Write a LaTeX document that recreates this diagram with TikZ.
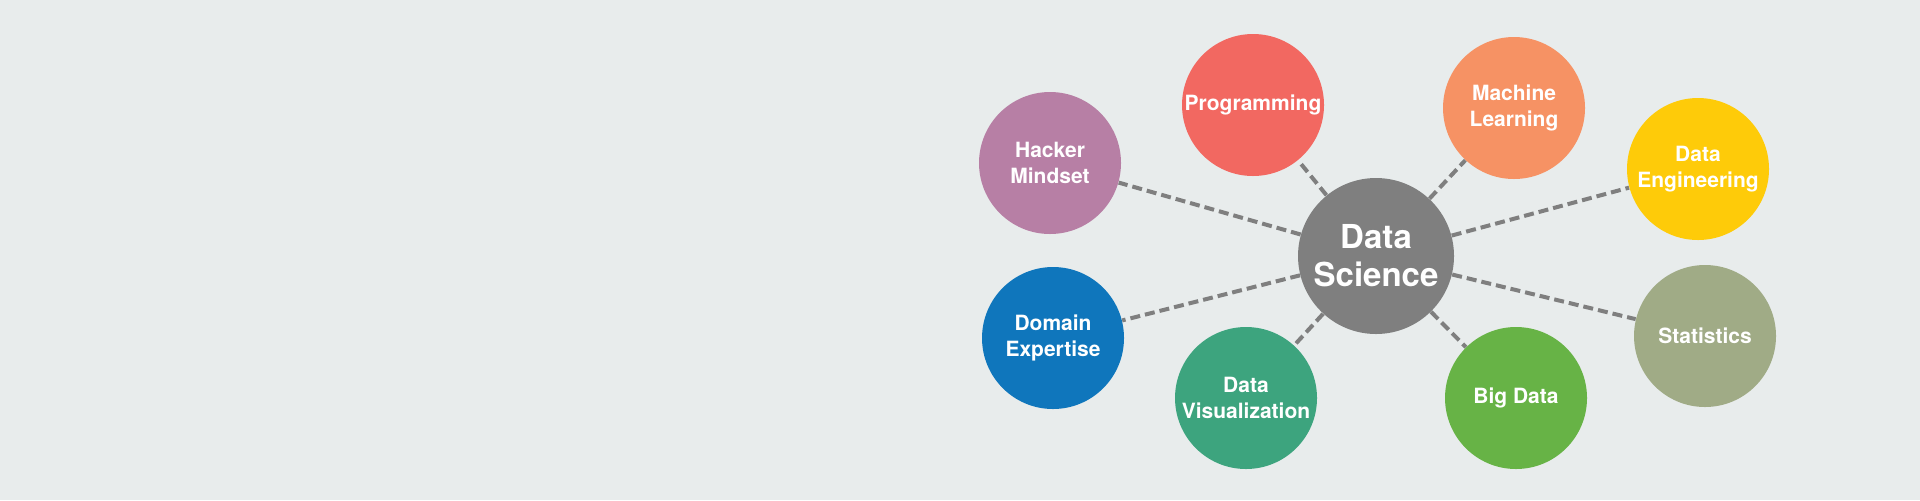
\documentclass[tikz,border=0pt]{standalone}
\usepackage{fontspec}
\setmainfont{TeX Gyre Heros}
\usepackage{xcolor}
\usetikzlibrary{backgrounds}
\definecolor{bgColor}{RGB}{232, 236, 236}
\definecolor{centerColor}{RGB}{127, 127, 127}
\definecolor{hackerColor}{RGB}{183, 127, 165}
\definecolor{programmingColor}{RGB}{242, 104, 97}
\definecolor{mlearnColor}{RGB}{246, 146, 100}
\definecolor{dataengColor}{RGB}{254, 203, 9}
\definecolor{domainColor}{RGB}{15, 118, 188}
\definecolor{datavizColor}{RGB}{61, 164, 126}
\definecolor{bigdataColor}{RGB}{103, 179, 70}
\definecolor{statsColor}{RGB}{160, 171, 134}
\definecolor{linkColor}{RGB}{127, 127, 127}

\begin{document}
\begin{tikzpicture}[
		x=0.5pt, y=-0.5pt,
		% Define styles for nodes
		hub/.style={
				circle,
				inner sep=0pt,
				minimum size=78pt,
				fill=centerColor,
				text=white,
				align=center,
				font=\fontsize{16.5}{19}\selectfont\bfseries
			},
		topic/.style={
				circle,
				inner sep=0pt,
				minimum size=71pt,
				fill=#1,
				text=white,
				align=center,
				font=\fontsize{10.5}{13}\selectfont\bfseries
			},
		link/.style={
				draw=linkColor,
				line width=2pt,
				dash pattern=on 5pt off 2.5pt
			}
	]

	% Canvas
	\useasboundingbox (0,0) rectangle (1920,500);

	% Central node
	\node[hub] (datasci) at (1376,256) {Data\\Science};

	% Upper ring
	\node[topic=hackerColor] (hacker) at (1050,163) {Hacker\\Mindset};
	\node[topic=programmingColor] (programming) at (1253,105) {Programming};
	\node[topic=mlearnColor] (mlearn) at (1514,108) {Machine\\Learning};
	\node[topic=dataengColor] (dataeng) at (1698,169) {Data\\Engineering};

	% Lower ring
	\node[topic=domainColor] (domain) at (1053,338) {Domain\\Expertise};
	\node[topic=datavizColor] (dataviz) at (1246,398) {Data\\Visualization};
	\node[topic=bigdataColor] (bigdata) at (1516,398) {Big Data};
	\node[topic=statsColor] (stats) at (1705,336) {Statistics};

	% BACKGROUND: canvas fill, then links from hub to every topic
	\begin{pgfonlayer}{background}
		\fill[bgColor] (0,0) rectangle (1920,500);
		\foreach \t in {hacker,programming,mlearn,dataeng,domain,dataviz,bigdata,stats}
			\draw[link] (datasci) -- (\t);
	\end{pgfonlayer}

\end{tikzpicture}
\end{document}
